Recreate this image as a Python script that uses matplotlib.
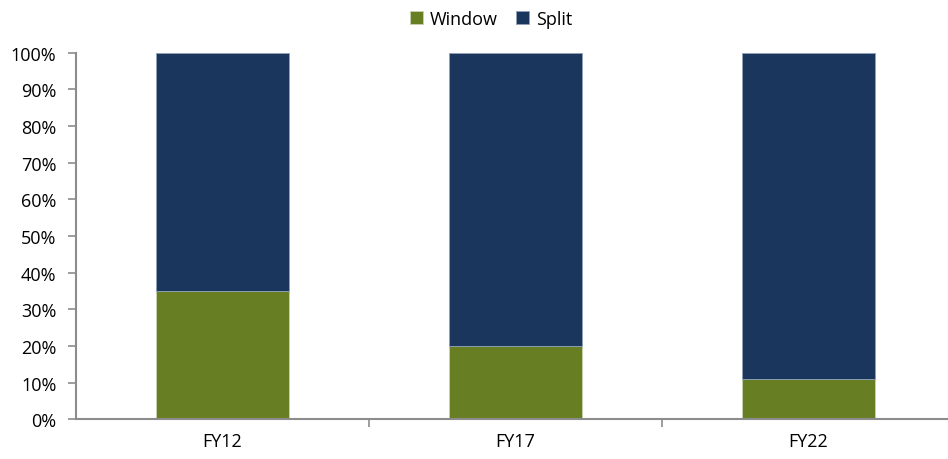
import matplotlib
matplotlib.use("Agg")
import matplotlib.pyplot as plt
from matplotlib.ticker import FuncFormatter, FixedLocator

categories = ["FY12", "FY17", "FY22"]
window = [35, 20, 11]
split = [65, 80, 89]
yticks = list(range(0, 101, 10))

green = "#677E23"
navy = "#1A365D"
axis_grey = "#8C8C8C"

plt.rcParams["font.family"] = ["Open Sans", "DejaVu Sans"]

fig = plt.figure(figsize=(9.48, 4.60), dpi=100)
ax = fig.add_axes([0.080, 0.086, 0.927, 0.797])

x = range(len(categories))
ax.bar(x, window, width=0.455, color=green, edgecolor="#C9D3B0", linewidth=0.6, label="Window")
ax.bar(x, split, bottom=window, width=0.455, color=navy, edgecolor="#8FA0B8", linewidth=0.6, label="Split")

ax.set_xlim(-0.5, len(categories) - 0.5)
ax.set_ylim(0, 100)
ax.set_yticks(yticks)
ax.yaxis.set_major_formatter(FuncFormatter(lambda v, _: f"{v:.0f}%"))
ax.set_xticks(list(x))
ax.set_xticklabels(categories)
ax.xaxis.set_minor_locator(FixedLocator([i + 0.5 for i in range(len(categories) - 1)]))

for side in ("top", "right"):
    ax.spines[side].set_visible(False)
for side in ("left", "bottom"):
    ax.spines[side].set_color(axis_grey)
    ax.spines[side].set_linewidth(1.5)

ax.tick_params(axis="y", direction="out", length=6, width=1.2, color=axis_grey,
               labelsize=13, pad=8)
ax.tick_params(axis="x", which="major", length=0, labelsize=13, pad=9)
ax.tick_params(axis="x", which="minor", direction="out", length=6, width=1.2, color=axis_grey)

fig.legend(loc="upper center", bbox_to_anchor=(0.518, 1.012), ncol=2, frameon=False,
           fontsize=13, handlelength=0.7, handleheight=0.7, handletextpad=0.4,
           columnspacing=1.0)

fig.savefig("out.png", dpi=100)
